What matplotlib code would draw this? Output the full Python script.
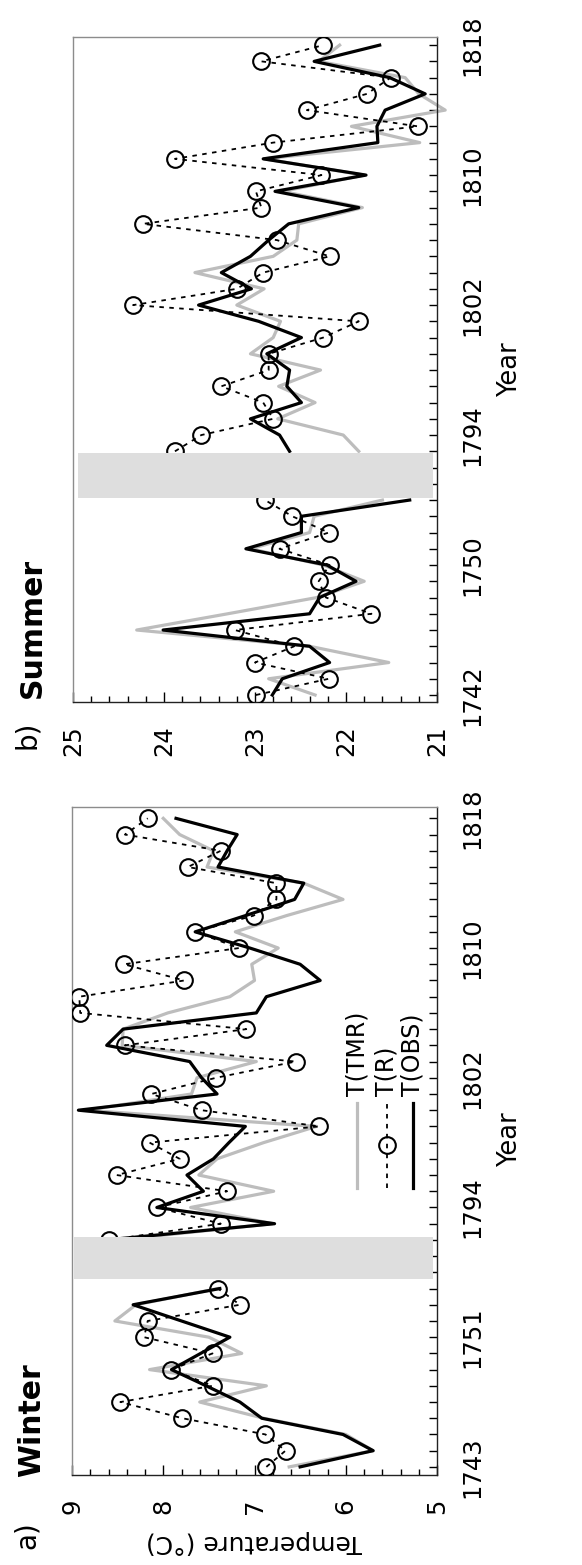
import numpy as np
import matplotlib.pyplot as plt
from matplotlib.lines import Line2D

plt.rcParams['font.family'] = ['DejaVu Sans']

# positions on the (compressed) year axis
winter_pos = list(range(0, 12)) + list(range(14, 41))
summer_pos = list(range(0, 13)) + list(range(15, 41))
winter_ticklabels = ['1743', '1751', '1794', '1802', '1810', '1818']
summer_ticklabels = ['1742', '1750', '1794', '1802', '1810', '1818']

# Winter
winter_obs = [6.50, 5.70, 6.03, 6.92, 7.16, 7.53, 7.91, 7.59, 7.27, 7.80, 8.33, 7.38,
              8.62, 6.78, 8.07, 7.56, 7.74, 7.45, 7.28, 7.10, 8.93, 7.41, 7.58, 7.71,
              8.62, 8.44, 6.98, 6.87, 6.28, 6.50, 7.05, 7.65, 7.10, 6.56, 6.46, 7.40,
              7.30, 7.19, 7.86]
winter_r = [6.87, 6.66, 6.88, 7.79, 8.47, 7.46, 7.91, 7.46, 8.21, 8.17, 7.16, 7.40,
            8.59, 7.37, 8.07, 7.30, 8.51, 7.82, 8.15, 6.29, 7.58, 8.13, 7.42, 6.55,
            8.42, 7.09, 8.91, 8.92, 7.77, 8.43, 7.17, 7.65, 7.01, 6.76, 6.76, 7.73,
            7.37, 8.42, 8.17]
winter_tmr = [6.62, 5.70, 6.00, 6.90, 7.60, 6.87, 8.15, 7.14, 7.50, 8.53, 8.30, 7.40,
              8.50, 6.80, 7.70, 6.79, 7.61, 7.41, 6.90, 6.32, 8.85, 7.69, 7.63, 6.98,
              8.45, 8.44, 7.95, 7.27, 7.00, 7.03, 6.74, 7.21, 6.65, 6.03, 6.46, 7.52,
              7.45, 7.82, 8.00]

# Summer
summer_obs = [22.81, 22.70, 22.18, 22.40, 24.01, 22.40, 22.29, 21.89, 22.21, 23.10, 22.49, 22.49, 21.30,
              22.62, 22.73, 23.05, 22.49, 22.65, 22.62, 22.87, 22.49, 22.96, 23.62, 23.04, 23.37,
              23.05, 22.85, 22.63, 21.86, 22.78, 21.78, 22.91, 21.65, 21.66, 21.57, 21.13, 21.52,
              22.35, 21.63]
summer_r = [22.99, 22.19, 23.00, 22.57, 23.22, 21.72, 22.22, 22.30, 22.18, 22.73, 22.19, 22.59, 22.89,
            23.88, 23.59, 22.80, 22.91, 23.37, 22.85, 22.85, 22.25, 21.86, 24.34, 23.20, 22.91,
            22.18, 22.76, 24.23, 22.93, 22.99, 22.27, 23.88, 22.80, 21.21, 22.43, 21.77, 21.51,
            22.93, 22.25]
summer_tmr = [22.34, 22.85, 21.53, 22.40, 24.30, 23.30, 22.32, 21.80, 22.25, 23.05, 22.40, 22.35, 21.60,
              21.86, 22.03, 22.75, 22.34, 22.74, 22.28, 23.05, 22.80, 22.72, 23.20, 22.90, 23.66,
              22.80, 22.54, 22.52, 21.82, 22.70, 21.80, 22.90, 21.19, 21.94, 20.91, 21.20, 21.35,
              22.30, 22.07]


def with_gap(pos, vals):
    # break the line where positions jump
    p, v = [], []
    for i, (a, b) in enumerate(zip(pos, vals)):
        if i > 0 and a - pos[i - 1] > 1:
            p.append(np.nan)
            v.append(np.nan)
        p.append(a)
        v.append(b)
    return np.array(p, float), np.array(v, float)


def panel(ax, pos, tmr, r, obs, tlim, ylim, band, bandx, ticklabels):
    y, v = with_gap(pos, tmr)
    ax.plot(v, y, color='#bdbdbd', lw=2.3, zorder=2, clip_on=False)
    y, v = with_gap(pos, r)
    ax.plot(v, y, color='black', lw=1.3, ls=(0, (2.5, 3)), marker='o', ms=12,
            mfc='none', mec='black', mew=1.5, zorder=3)
    y, v = with_gap(pos, obs)
    ax.plot(v, y, color='black', lw=2.3, zorder=4)
    ax.axhspan(band[0], band[1], xmin=bandx[0], xmax=bandx[1], color='#dedede', lw=0, zorder=6)

    ax.set_xlim(tlim[0], tlim[1])
    ax.set_ylim(ylim)
    ax.set_xticks(np.arange(tlim[1], tlim[0] + 1))
    ax.set_xticks(np.arange(tlim[1], tlim[0] + 0.01, 0.2), minor=True)
    ax.set_yticks([0, 8, 16, 24, 32, 40])
    ax.set_yticklabels(ticklabels)
    ax.set_yticks(np.arange(0, 41), minor=True)
    ax.yaxis.tick_right()
    ax.tick_params(axis='x', which='major', direction='in', length=7, width=1, pad=17,
                   labelsize=17.5, labelrotation=90)
    ax.tick_params(axis='x', which='minor', direction='in', length=4, width=1)
    ax.tick_params(axis='y', which='both', direction='in', length=6, width=1, pad=17,
                   labelsize=17.5, labelrotation=90)
    for lab in ax.get_yticklabels():
        lab.set_va('center')
    for s in ['left', 'top']:
        ax.spines[s].set_color('#8c8c8c')
    for s in ['bottom', 'right']:
        ax.spines[s].set_color('#222222')
    for s in ax.spines.values():
        s.set_linewidth(1.0)


fig = plt.figure(figsize=(5.82, 15.65), dpi=100)
W, H = 582.0, 1565.0

ax_b = fig.add_axes([73 / W, 1 - 702 / H, 364 / W, 665 / H])
panel(ax_b, summer_pos, summer_tmr, summer_r, summer_obs, (25, 21), (-0.43, 40.5),
      (12.12, 14.89), (0.014, 0.989), summer_ticklabels)

ax_a = fig.add_axes([72 / W, 1 - 1475 / H, 365 / W, 668 / H])
panel(ax_a, winter_pos, winter_tmr, winter_r, winter_obs, (9, 5), (-0.5, 40.7),
      (11.59, 14.18), (0.005, 0.989), winter_ticklabels)

# legend (drawn rotated, in axes coordinates of panel a)
leg_x = [0.781, 0.863, 0.934]
leg_lab = ['T(TMR)', 'T(R)', 'T(OBS)']
ax_a.add_line(Line2D([leg_x[0]] * 2, [0.430, 0.557], transform=ax_a.transAxes,
                     color='#bdbdbd', lw=2.3, zorder=7))
ax_a.add_line(Line2D([leg_x[1]] * 2, [0.430, 0.557], transform=ax_a.transAxes,
                     color='black', lw=1.3, ls=(0, (2.5, 3)), zorder=7))
ax_a.add_line(Line2D([leg_x[1]], [0.4935], transform=ax_a.transAxes, marker='o', ms=12,
                     mfc='none', mec='black', mew=1.5, zorder=7))
ax_a.add_line(Line2D([leg_x[2]] * 2, [0.430, 0.557], transform=ax_a.transAxes,
                     color='black', lw=2.3, zorder=7))
for xx, lab in zip(leg_x, leg_lab):
    ax_a.text(xx, 0.568, lab, transform=ax_a.transAxes, rotation=90, rotation_mode='anchor',
              ha='left', va='center', fontsize=17, zorder=7)

# axis titles
fig.text(510 / W, 1 - 370 / H, 'Year', rotation=90, ha='center', va='center', fontsize=18.5)
fig.text(510 / W, 1 - 1140 / H, 'Year', rotation=90, ha='center', va='center', fontsize=18.5)
fig.text(254 / W, 1 - 1542 / H, 'Temperature (°C)', rotation=180, ha='center', va='center',
         fontsize=18)

# panel titles
fig.text(27 / W, 1 - 1535 / H, 'a)', rotation=90, ha='center', va='center', fontsize=20)
fig.text(32 / W, 1 - 1477 / H, 'Winter', rotation=90, ha='center', va='bottom',
         fontsize=21.5, fontweight='bold')
fig.text(27 / W, 1 - 735 / H, 'b)', rotation=90, ha='center', va='center', fontsize=20)
fig.text(32 / W, 1 - 698 / H, 'Summer', rotation=90, ha='center', va='bottom',
         fontsize=21.5, fontweight='bold')

fig.savefig('out.png', dpi=100)
